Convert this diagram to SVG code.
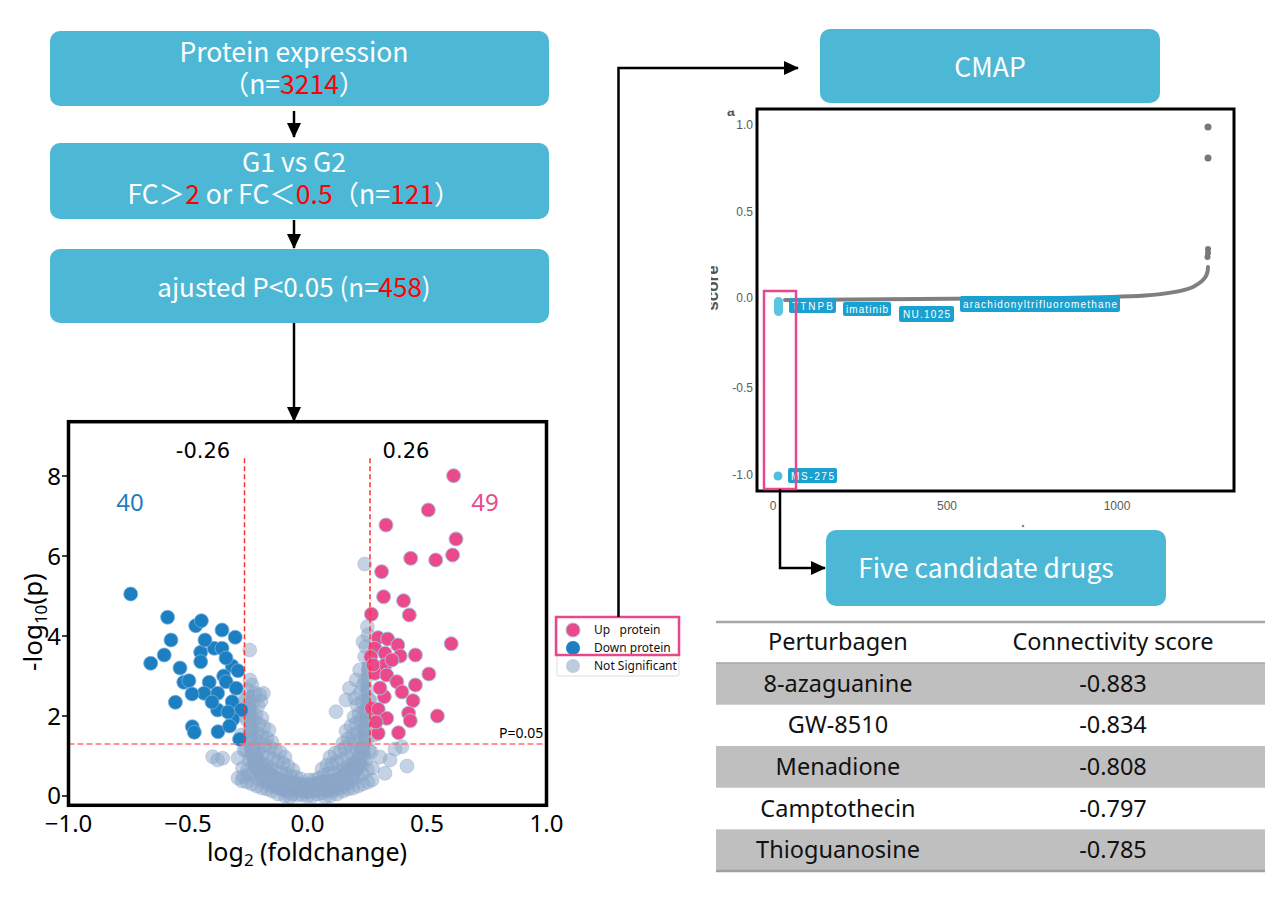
<svg xmlns="http://www.w3.org/2000/svg" width="1267" height="915" viewBox="0 0 1267 915">
<style>
.box{fill:#4db8d5}
.bt{font-family:"Noto Sans CJK SC","Noto Sans",sans-serif;font-size:26.5px;fill:#fff;text-anchor:middle}
.red{fill:#ff0000}
.conn{stroke:#000;stroke-width:2.5;fill:none}
.vt{font-family:"Noto Sans",sans-serif;fill:#000}
.gp circle{fill:#8aa5c8;fill-opacity:.5;stroke:#8aa5c8;stroke-opacity:.35;stroke-width:1}
.bp circle{fill:#1b7fc1;stroke:#7fb0dc;stroke-width:.8}
.pp circle{fill:#ea4a8c;stroke:#a9bfd8;stroke-width:1}
.tk{font-family:"Liberation Sans",Arial,sans-serif;font-size:12px;fill:#5a5a5a}
.lab rect{fill:#1ba1cf}
.lab text{font-family:"Liberation Sans",Arial,sans-serif;font-size:10px;fill:#fff}
.tt{font-family:"Noto Sans",sans-serif;font-size:23.5px;fill:#111;text-anchor:middle}
.lg{font-family:"Noto Sans",sans-serif;font-size:12px;fill:#111}
</style>
<defs>
<marker id="ah" viewBox="0 0 15 14" refX="14" refY="7" markerWidth="15" markerHeight="14" markerUnits="userSpaceOnUse" orient="auto">
<path d="M0,0 L15,7 L0,14 z" fill="#000"/>
</marker>
<clipPath id="vclip"><rect x="70" y="423.5" width="475" height="380"/></clipPath>
<clipPath id="aclip"><rect x="700" y="110.5" width="60" height="20"/></clipPath>
<clipPath id="sclip"><rect x="711" y="240" width="20" height="90"/></clipPath>
</defs>
<rect width="1267" height="915" fill="#fff"/>

<g id="box1">
<rect class="box" x="50" y="31" width="499" height="75" rx="10"/>
<text class="bt"><tspan x="294" y="62">Protein expression</tspan><tspan x="294" y="94">（n=<tspan class="red">3214</tspan>）</tspan></text>
</g>
<g id="box2">
<rect class="box" x="50" y="143" width="499" height="76" rx="10"/>
<text class="bt"><tspan x="294" y="172">G1 vs G2</tspan><tspan x="294" y="204">FC＞<tspan class="red">2</tspan> or FC＜<tspan class="red">0.5</tspan>（n=<tspan class="red">121</tspan>）</tspan></text>
</g>
<g id="box3">
<rect class="box" x="50" y="249" width="499" height="74" rx="10"/>
<text class="bt" x="294" y="297" style="font-size:26px">ajusted P&lt;0.05 (n=<tspan class="red">458</tspan>)</text>
</g>

<g id="volcano">
<rect x="68.5" y="421.7" width="478" height="383.6" fill="#fff"/>
<g clip-path="url(#vclip)">
<path d="M247,690 L244,720 L244,750 L250,772 L262,786 L280,795 L307,799 L335,795 L352,786 L364,772 L370,750 L370,700 L368,662 L362,662 L361,700 L358,740 L350,760 L335,773 L307,778 L280,773 L265,760 L258,740 L256,710 L255,690 Z" fill="#9bb2cf"/>
<g class="gp">
<circle cx="307.5" cy="796" r="7"/><circle cx="306" cy="788" r="7"/><circle cx="309" cy="780" r="7"/>
<circle cx="302.5" cy="795" r="7"/><circle cx="304" cy="787" r="7"/><circle cx="301" cy="779" r="7"/>
<circle cx="312.5" cy="796" r="7"/><circle cx="311" cy="787" r="7"/><circle cx="314" cy="780" r="7"/>
<circle cx="297.5" cy="795" r="7"/><circle cx="299" cy="786" r="7"/><circle cx="296" cy="777" r="7"/>
<circle cx="317.5" cy="794" r="7"/><circle cx="316" cy="785" r="7"/><circle cx="319" cy="778" r="7"/>
<circle cx="292.5" cy="794" r="7"/><circle cx="294" cy="785" r="7"/><circle cx="291" cy="776" r="7"/><circle cx="293" cy="770" r="7"/>
<circle cx="322.5" cy="793" r="7"/><circle cx="321" cy="784" r="7"/><circle cx="324" cy="775" r="7"/><circle cx="322" cy="769" r="7"/>
<circle cx="287.5" cy="792" r="7"/><circle cx="289" cy="783" r="7"/><circle cx="286" cy="774" r="7"/><circle cx="288" cy="766" r="7"/>
<circle cx="327.5" cy="791" r="7"/><circle cx="326" cy="782" r="7"/><circle cx="329" cy="773" r="7"/><circle cx="327" cy="765" r="7"/>
<circle cx="282.5" cy="790" r="7"/><circle cx="284" cy="781" r="7"/><circle cx="281" cy="772" r="7"/><circle cx="283" cy="763" r="7"/><circle cx="285" cy="757" r="7"/>
<circle cx="332.5" cy="791" r="7"/><circle cx="331" cy="782" r="7"/><circle cx="334" cy="773" r="7"/><circle cx="332" cy="764" r="7"/><circle cx="330" cy="757" r="7"/>
<circle cx="277.5" cy="788" r="7"/><circle cx="279" cy="779" r="7"/><circle cx="276" cy="770" r="7"/><circle cx="278" cy="761" r="7"/><circle cx="280" cy="752" r="7"/>
<circle cx="337.5" cy="789" r="7"/><circle cx="336" cy="780" r="7"/><circle cx="339" cy="771" r="7"/><circle cx="337" cy="762" r="7"/><circle cx="335" cy="753" r="7"/>
<circle cx="272.5" cy="786" r="7"/><circle cx="274" cy="777" r="7"/><circle cx="271" cy="768" r="7"/><circle cx="273" cy="759" r="7"/><circle cx="275" cy="750" r="7"/><circle cx="272" cy="742" r="7"/>
<circle cx="342.5" cy="787" r="7"/><circle cx="341" cy="778" r="7"/><circle cx="344" cy="769" r="7"/><circle cx="342" cy="760" r="7"/><circle cx="340" cy="751" r="7"/><circle cx="343" cy="743" r="7"/>
<circle cx="267.5" cy="783" r="7"/><circle cx="269" cy="774" r="7"/><circle cx="266" cy="765" r="7"/><circle cx="268" cy="756" r="7"/><circle cx="270" cy="747" r="7"/><circle cx="267" cy="738" r="7"/><circle cx="269" cy="730" r="7"/>
<circle cx="347.5" cy="784" r="7"/><circle cx="346" cy="775" r="7"/><circle cx="349" cy="766" r="7"/><circle cx="347" cy="757" r="7"/><circle cx="345" cy="748" r="7"/><circle cx="348" cy="739" r="7"/><circle cx="346" cy="731" r="7"/>
<circle cx="262.5" cy="781" r="7"/><circle cx="264" cy="772" r="7"/><circle cx="261" cy="763" r="7"/><circle cx="263" cy="754" r="7"/><circle cx="265" cy="745" r="7"/><circle cx="262" cy="736" r="7"/><circle cx="264" cy="727" r="7"/><circle cx="262" cy="718" r="7"/>
<circle cx="352.5" cy="780" r="7"/><circle cx="351" cy="771" r="7"/><circle cx="354" cy="762" r="7"/><circle cx="352" cy="753" r="7"/><circle cx="350" cy="744" r="7"/><circle cx="353" cy="735" r="7"/><circle cx="351" cy="726" r="7"/><circle cx="354" cy="717" r="7"/>
<circle cx="257.5" cy="778" r="7"/><circle cx="259" cy="769" r="7"/><circle cx="256" cy="760" r="7"/><circle cx="258" cy="751" r="7"/><circle cx="260" cy="742" r="7"/><circle cx="257" cy="733" r="7"/><circle cx="259" cy="724" r="7"/><circle cx="256" cy="715" r="7"/><circle cx="258" cy="706" r="7"/><circle cx="261" cy="701" r="7"/>
<circle cx="357.5" cy="777" r="7"/><circle cx="356" cy="768" r="7"/><circle cx="359" cy="759" r="7"/><circle cx="357" cy="750" r="7"/><circle cx="355" cy="741" r="7"/><circle cx="358" cy="732" r="7"/><circle cx="356" cy="723" r="7"/><circle cx="359" cy="714" r="7"/><circle cx="357" cy="705" r="7"/><circle cx="355" cy="698" r="7"/>
<circle cx="252.5" cy="774" r="7"/><circle cx="254" cy="765" r="7"/><circle cx="251" cy="756" r="7"/><circle cx="253" cy="747" r="7"/><circle cx="255" cy="738" r="7"/><circle cx="252" cy="729" r="7"/><circle cx="254" cy="720" r="7"/><circle cx="251" cy="711" r="7"/><circle cx="253" cy="702" r="7"/><circle cx="255" cy="693" r="7"/><circle cx="252" cy="685" r="7"/>
<circle cx="362.5" cy="774" r="7"/><circle cx="361" cy="765" r="7"/><circle cx="364" cy="756" r="7"/><circle cx="362" cy="747" r="7"/><circle cx="360" cy="738" r="7"/><circle cx="363" cy="729" r="7"/><circle cx="361" cy="720" r="7"/><circle cx="364" cy="711" r="7"/><circle cx="362" cy="702" r="7"/><circle cx="360" cy="693" r="7"/><circle cx="363" cy="685" r="7"/>
<circle cx="247.5" cy="770" r="7"/><circle cx="249" cy="760" r="7"/><circle cx="246" cy="750" r="7"/><circle cx="248" cy="740" r="7"/><circle cx="250" cy="730" r="7"/><circle cx="247" cy="720" r="7"/><circle cx="249" cy="710" r="7"/><circle cx="246" cy="700" r="7"/><circle cx="248" cy="690" r="7"/><circle cx="250" cy="680" r="7"/>
<circle cx="367.5" cy="770" r="7"/><circle cx="366" cy="760" r="7"/><circle cx="369" cy="750" r="7"/><circle cx="367" cy="740" r="7"/><circle cx="365" cy="730" r="7"/><circle cx="368" cy="720" r="7"/><circle cx="366" cy="710" r="7"/><circle cx="369" cy="700" r="7"/><circle cx="367" cy="690" r="7"/><circle cx="365" cy="680" r="7"/><circle cx="368" cy="670" r="7"/>
<circle cx="242.5" cy="768" r="7"/><circle cx="244" cy="750" r="7"/><circle cx="241" cy="735" r="7"/><circle cx="243" cy="715" r="7"/><circle cx="244" cy="700" r="7"/>
<circle cx="372.5" cy="768" r="7"/><circle cx="371" cy="752" r="7"/><circle cx="374" cy="735" r="7"/><circle cx="372" cy="718" r="7"/><circle cx="370" cy="700" r="7"/>
<circle cx="272" cy="791" r="7"/><circle cx="267" cy="789" r="7"/><circle cx="262" cy="788" r="7"/><circle cx="257" cy="786" r="7"/><circle cx="252" cy="784" r="7"/><circle cx="247" cy="782" r="7"/><circle cx="242" cy="781" r="7"/><circle cx="238" cy="778" r="7"/>
<circle cx="343" cy="791" r="7"/><circle cx="348" cy="789" r="7"/><circle cx="353" cy="788" r="7"/><circle cx="358" cy="786" r="7"/><circle cx="363" cy="784" r="7"/><circle cx="368" cy="782" r="7"/><circle cx="372" cy="780" r="7"/>
<circle cx="285" cy="796" r="7"/><circle cx="290" cy="797" r="7"/><circle cx="325" cy="797" r="7"/><circle cx="330" cy="796" r="7"/><circle cx="278" cy="794" r="7"/><circle cx="337" cy="794" r="7"/>
<circle cx="212.6" cy="756.7" r="7"/><circle cx="217.6" cy="760" r="7"/><circle cx="222.7" cy="758.3" r="7"/><circle cx="248" cy="775" r="7"/><circle cx="243" cy="776.7" r="7"/>
<circle cx="385" cy="773.3" r="7"/><circle cx="407" cy="766" r="7"/><circle cx="401.9" cy="746.7" r="7"/><circle cx="263.3" cy="693.3" r="7"/><circle cx="259.9" cy="695" r="7"/>
<circle cx="336" cy="711.7" r="7"/><circle cx="346" cy="700" r="7"/><circle cx="349.5" cy="688.3" r="7"/><circle cx="356.2" cy="680" r="7"/><circle cx="359.6" cy="670" r="7"/>
<circle cx="364.7" cy="656.7" r="7"/><circle cx="249.7" cy="650" r="7"/><circle cx="364.7" cy="564" r="7"/><circle cx="367.4" cy="626.7" r="7"/><circle cx="363" cy="641.7" r="7"/>
<circle cx="365.7" cy="646.7" r="7"/><circle cx="368" cy="635" r="7"/><circle cx="238" cy="758" r="7"/><circle cx="380" cy="757" r="7"/><circle cx="390" cy="760" r="7"/><circle cx="395" cy="749" r="7"/>
</g>
<g class="bp">
<circle cx="130.7" cy="594" r="7"/><circle cx="167.6" cy="617.3" r="7"/><circle cx="195.7" cy="625.7" r="7"/><circle cx="201.4" cy="620.7" r="7"/>
<circle cx="222" cy="630" r="7"/><circle cx="235.2" cy="637.3" r="7"/><circle cx="214.2" cy="648.3" r="7"/><circle cx="222" cy="648.3" r="7"/>
<circle cx="200.7" cy="652.3" r="7"/><circle cx="164.2" cy="655" r="7"/><circle cx="150.7" cy="663.3" r="7"/><circle cx="200.7" cy="661.7" r="7"/>
<circle cx="232.2" cy="666" r="7"/><circle cx="237.9" cy="670.7" r="7"/><circle cx="223.7" cy="676" r="7"/><circle cx="209.2" cy="682.3" r="7"/>
<circle cx="183.8" cy="682.3" r="7"/><circle cx="188.9" cy="680.7" r="7"/><circle cx="226.1" cy="681.7" r="7"/><circle cx="236.2" cy="688.3" r="7"/>
<circle cx="204.1" cy="693.3" r="7"/><circle cx="217.6" cy="693.3" r="7"/><circle cx="232.2" cy="701.7" r="7"/><circle cx="241.3" cy="710" r="7"/>
<circle cx="175.4" cy="702.3" r="7"/><circle cx="217.6" cy="710" r="7"/><circle cx="232.8" cy="719.3" r="7"/><circle cx="192.3" cy="726.7" r="7"/>
<circle cx="194.3" cy="732.3" r="7"/><circle cx="218" cy="731.7" r="7"/><circle cx="229.5" cy="726" r="7"/><circle cx="239.6" cy="739.3" r="7"/>
<circle cx="205" cy="640" r="7"/><circle cx="226" cy="658" r="7"/><circle cx="192" cy="694" r="7"/><circle cx="212" cy="702" r="7"/>
<circle cx="228" cy="712" r="7"/><circle cx="180" cy="668" r="7"/><circle cx="171" cy="640" r="7"/>
</g>
<g class="pp">
<circle cx="453.6" cy="475.7" r="7"/><circle cx="428.3" cy="510" r="7"/><circle cx="386" cy="525" r="7"/><circle cx="456" cy="539" r="7"/>
<circle cx="410.7" cy="558.3" r="7"/><circle cx="435.7" cy="560" r="7"/><circle cx="452.6" cy="555" r="7"/><circle cx="381.6" cy="571.7" r="7"/>
<circle cx="383.6" cy="596.7" r="7"/><circle cx="403.6" cy="600.7" r="7"/><circle cx="409.3" cy="615" r="7"/><circle cx="371.4" cy="614.3" r="7"/>
<circle cx="451.2" cy="643.7" r="7"/><circle cx="378.2" cy="637.7" r="7"/><circle cx="387.7" cy="639" r="7"/><circle cx="397.8" cy="645" r="7"/>
<circle cx="374.8" cy="648.3" r="7"/><circle cx="415.4" cy="655" r="7"/><circle cx="370.8" cy="656.7" r="7"/><circle cx="385" cy="653.3" r="7"/>
<circle cx="400.2" cy="656" r="7"/><circle cx="385" cy="665" r="7"/><circle cx="374.8" cy="673.3" r="7"/><circle cx="386.7" cy="675" r="7"/>
<circle cx="396.8" cy="681.7" r="7"/><circle cx="428.9" cy="674" r="7"/><circle cx="415.4" cy="685" r="7"/><circle cx="384.3" cy="696.7" r="7"/>
<circle cx="413" cy="700.7" r="7"/><circle cx="371.5" cy="708.3" r="7"/><circle cx="378.2" cy="709.3" r="7"/><circle cx="386.7" cy="718.3" r="7"/>
<circle cx="408.6" cy="713.3" r="7"/><circle cx="410.3" cy="720.7" r="7"/><circle cx="437.4" cy="716" r="7"/><circle cx="378.2" cy="733.3" r="7"/>
<circle cx="398.5" cy="732.7" r="7"/><circle cx="392" cy="660" r="7"/><circle cx="380" cy="688" r="7"/><circle cx="373" cy="665" r="7"/>
<circle cx="402" cy="692" r="7"/><circle cx="376" cy="722" r="7"/>
</g>
<line x1="244.5" y1="458.3" x2="244.5" y2="744" stroke="#ff3333" stroke-width="1.5" stroke-dasharray="5,3"/>
<line x1="370" y1="458.3" x2="370" y2="744" stroke="#ff3333" stroke-width="1.5" stroke-dasharray="5,3"/>
<line x1="68.5" y1="744" x2="546.5" y2="744" stroke="#ff7070" stroke-width="1.5" stroke-dasharray="6,3"/>
</g>
<rect x="68.5" y="421.7" width="478" height="383.6" fill="none" stroke="#000" stroke-width="3.5"/>
<g stroke="#000" stroke-width="1.5">
<line x1="62" y1="476" x2="68" y2="476"/><line x1="62" y1="556" x2="68" y2="556"/><line x1="62" y1="636" x2="68" y2="636"/><line x1="62" y1="716" x2="68" y2="716"/><line x1="62" y1="796" x2="68" y2="796"/>
</g>
<g class="vt" font-size="24" text-anchor="end">
<text x="61" y="485">8</text><text x="61" y="565">6</text><text x="61" y="645">4</text><text x="61" y="725">2</text><text x="61" y="804">0</text>
</g>
<g class="vt" font-size="24" text-anchor="middle">
<text x="68.5" y="832">−1.0</text><text x="188" y="832">−0.5</text><text x="307.5" y="832">0.0</text><text x="427" y="832">0.5</text><text x="546.5" y="832">1.0</text>
</g>
<text class="vt" font-size="25" text-anchor="middle" x="307" y="861">log<tspan font-size="17" dy="5">2</tspan><tspan dy="-5"> (foldchange)</tspan></text>
<text class="vt" font-size="26" text-anchor="middle" transform="translate(42,622) rotate(-90)">-log<tspan font-size="17" dy="5">10</tspan><tspan dy="-5">(p)</tspan></text>
<text x="203" y="457.7" font-family="DejaVu Sans,sans-serif" font-size="21" text-anchor="middle" fill="#000">-0.26</text>
<text x="406" y="457.7" font-family="DejaVu Sans,sans-serif" font-size="21" text-anchor="middle" fill="#000">0.26</text>
<text class="vt" x="130" y="511" font-size="24" text-anchor="middle" style="fill:#1b7fc1">40</text>
<text class="vt" x="485" y="511" font-size="24" text-anchor="middle" style="fill:#ea4a8c">49</text>
<text class="vt" x="499" y="738" font-size="14">P=0.05</text>
</g>

<g id="legend">
<rect x="557" y="617" width="122" height="59" rx="2" fill="#fff" stroke="#dddddd" stroke-width="1"/>
<circle cx="573" cy="630" r="7" fill="#ea4a8c" stroke="#a9bfd8"/>
<circle cx="573" cy="648" r="7" fill="#1b7fc1"/>
<circle cx="573" cy="666" r="7" fill="#bccbde"/>
<text class="lg" x="594" y="634" xml:space="preserve">Up   protein</text>
<text class="lg" x="594" y="652">Down protein</text>
<text class="lg" x="594" y="670">Not Significant</text>
<rect x="556" y="617" width="123" height="38" fill="none" stroke="#e8488a" stroke-width="2.5"/>
</g>

<g id="cmapBox">
<rect class="box" x="820" y="29" width="340" height="74" rx="10"/>
<text class="bt" x="990" y="77">CMAP</text>
</g>

<g id="cmapPlot">
<rect x="757" y="109" width="477" height="382" fill="#fff"/>
<text x="727" y="116" font-family="Liberation Sans,Arial,sans-serif" font-size="14" font-weight="bold" fill="#555" clip-path="url(#aclip)">a</text>
<g clip-path="url(#sclip)">
<text transform="translate(718,288) rotate(-90)" font-family="Liberation Sans,Arial,sans-serif" font-size="17" font-weight="bold" fill="#555" text-anchor="middle">score</text>
</g>
<g class="tk" text-anchor="end">
<text x="753" y="129">1.0</text><text x="753" y="216">0.5</text><text x="753" y="302">0.0</text><text x="753" y="392">-0.5</text><text x="753" y="479">-1.0</text>
</g>
<g class="tk" text-anchor="middle">
<text x="773" y="510">0</text><text x="947" y="510">500</text><text x="1117" y="510">1000</text>
</g>
<circle cx="1023" cy="526" r="1.3" fill="#888"/>
<path d="M785,300 L1060,298 C1130,297 1172,296 1193,287 C1204,281 1208,276 1208,267" fill="none" stroke="#7f7f7f" stroke-width="4" stroke-linecap="round"/>
<g fill="#777">
<circle cx="1208" cy="127" r="3.5"/><circle cx="1208" cy="158" r="3.5"/>
<circle cx="1208" cy="249" r="3"/><circle cx="1208" cy="253" r="3"/><circle cx="1207.5" cy="257" r="3"/>
</g>
<rect x="774" y="297" width="9" height="19" rx="4.5" fill="#5bc4de"/>
<circle cx="778" cy="476" r="4.5" fill="#4fc0dc"/>
<g class="lab">
<rect x="789" y="298" width="47" height="15" rx="2"/><text x="792" y="310" textLength="41">TTNPB</text>
<rect x="843" y="302" width="48" height="14" rx="2"/><text x="846" y="313" textLength="42">imatinib</text>
<rect x="899" y="306" width="55" height="16" rx="2"/><text x="903" y="318" textLength="47">NU.1025</text>
<rect x="960" y="296" width="160" height="16" rx="2"/><text x="963" y="308" textLength="154">arachidonyltrifluoromethane</text>
<rect x="788" y="468" width="49" height="15" rx="2"/><text x="791" y="480" textLength="43">MS-275</text>
</g>
<rect x="757" y="109" width="477" height="382" fill="none" stroke="#000" stroke-width="3"/>
<rect x="764" y="291" width="32" height="198" fill="none" stroke="#e8488a" stroke-width="2.5"/>
</g>

<g id="fiveBox">
<rect class="box" x="826" y="530" width="340" height="76" rx="10"/>
<text class="bt" x="986" y="578">Five candidate drugs</text>
</g>

<g id="table">
<rect x="716" y="663" width="549" height="41.7" fill="#bfbfbf"/>
<rect x="716" y="746" width="549" height="41.7" fill="#bfbfbf"/>
<rect x="716" y="829.3" width="549" height="41.7" fill="#bfbfbf"/>
<line x1="716" y1="622" x2="1265" y2="622" stroke="#a6a6a6" stroke-width="2.5"/>
<line x1="716" y1="663" x2="1265" y2="663" stroke="#a6a6a6" stroke-width="1.5"/>
<line x1="716" y1="871" x2="1265" y2="871" stroke="#a0a0a0" stroke-width="2.5"/>
<text class="tt" x="838" y="650">Perturbagen</text><text class="tt" x="1113" y="650">Connectivity score</text>
<text class="tt" x="838" y="692">8-azaguanine</text><text class="tt" x="1113" y="692">-0.883</text>
<text class="tt" x="838" y="733">GW-8510</text><text class="tt" x="1113" y="733">-0.834</text>
<text class="tt" x="838" y="775">Menadione</text><text class="tt" x="1113" y="775">-0.808</text>
<text class="tt" x="838" y="817">Camptothecin</text><text class="tt" x="1113" y="817">-0.797</text>
<text class="tt" x="838" y="858">Thioguanosine</text><text class="tt" x="1113" y="858">-0.785</text>
</g>

<g id="connectors">
<line class="conn" x1="294" y1="111" x2="294" y2="137" marker-end="url(#ah)"/>
<line class="conn" x1="294" y1="220" x2="294" y2="248" marker-end="url(#ah)"/>
<line class="conn" x1="294" y1="323" x2="294" y2="421" marker-end="url(#ah)"/>
<polyline class="conn" points="618.5,617 618.5,68 798,68" marker-end="url(#ah)"/>
<polyline class="conn" points="780,489 780,568 825,568" marker-end="url(#ah)"/>
</g>
</svg>
